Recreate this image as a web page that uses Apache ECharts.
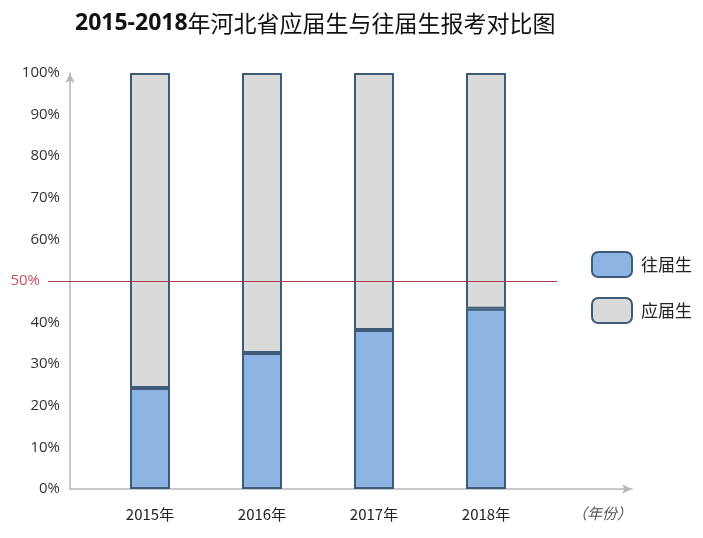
<!DOCTYPE html>
<html><head><meta charset="utf-8">
<script src="https://cdn.jsdelivr.net/npm/echarts@6/dist/echarts.min.js"></script>
<style>html,body{margin:0;padding:0;background:#fff}#c{width:703px;height:538px}</style>
</head><body><div id="c"></div>
<script>
const categories = ['2015年', '2016年', '2017年', '2018年'];
const previousGrads = [24.3, 32.7, 38.2, 43.3];   // 往届生
const currentGrads = [75.7, 67.3, 61.8, 56.7];    // 应届生
const yTicks = [0, 10, 20, 30, 40, 50, 60, 70, 80, 90, 100];
const refValue = 50;

const FONT = '"Noto Sans CJK SC", "Open Sans", sans-serif';
const chart = echarts.init(document.getElementById('c'), null, {renderer: 'canvas'});
const barBorder = '#3F5B7A';
const refColor = '#A8384A';
chart.setOption({
  backgroundColor: '#fff',
  animation: false,
  title: {
    text: '{b|2015-2018}{n|年河北省应届生与往届生报考对比图}',
    left: 70, top: 7,
    textStyle: {
      rich: {
        b: {fontFamily: '"Open Sans", sans-serif', fontWeight: 'bold', fontSize: 23, color: '#111'},
        n: {fontFamily: FONT, fontWeight: 'normal', fontSize: 23, color: '#111'}
      }
    }
  },
  legend: {
    orient: 'vertical', left: 591, top: 251, padding: 0,
    itemWidth: 40, itemHeight: 25, itemGap: 19,
    icon: 'roundRect',
    data: ['往届生', '应届生'],
    textStyle: {fontFamily: '"Noto Sans CJK SC", serif', fontSize: 17, color: '#222', padding: [0, 0, 0, 4]}
  },
  grid: [
    {left: 70, right: 71, top: 73, bottom: 49},
    {left: 94, right: 161, top: 73, bottom: 49},
    {left: 48, right: 146, top: 73, bottom: 49}
  ],
  xAxis: [
    {gridIndex: 0, type: 'value', min: 0, max: 1,
     axisLine: {show: true, symbol: ['none', 'arrow'], symbolSize: [7, 10], lineStyle: {color: '#B8B8B8', width: 1.5}},
     axisTick: {show: false}, axisLabel: {show: false}, splitLine: {show: false},
     name: '（年份）', nameLocation: 'end', nameGap: -60,
     nameTextStyle: {fontFamily: FONT, fontStyle: 'italic', fontSize: 15, color: '#555', verticalAlign: 'top', padding: [17, 0, 0, 0]}},
    {gridIndex: 1, type: 'category', data: categories,
     axisLine: {show: false}, axisTick: {show: false},
     axisLabel: {margin: 18, fontFamily: FONT, fontSize: 15, color: '#222'}},
    {gridIndex: 2, type: 'value', min: 0, max: 1, show: false}
  ],
  yAxis: [
    {gridIndex: 0, type: 'value', min: 0, max: 100, interval: 10,
     axisLine: {show: true, symbol: ['none', 'arrow'], symbolSize: [7, 10], lineStyle: {color: '#B8B8B8', width: 1.5}},
     axisTick: {show: false}, splitLine: {show: false},
     axisLabel: {margin: 10, fontFamily: '"Open Sans", sans-serif', fontSize: 15, color: '#333',
       formatter: v => (v === refValue || yTicks.indexOf(v) < 0) ? '' : v + '%'}},
    {gridIndex: 1, type: 'value', min: 0, max: 100, show: false},
    {gridIndex: 2, type: 'value', min: 0, max: 100, show: false}
  ],
  series: [
    {name: '往届生', type: 'bar', stack: 'total', xAxisIndex: 1, yAxisIndex: 1,
     barWidth: 40, data: previousGrads,
     itemStyle: {color: '#8EB4E3', borderColor: barBorder, borderWidth: 2}},
    {name: '应届生', type: 'bar', stack: 'total', xAxisIndex: 1, yAxisIndex: 1,
     barWidth: 40, data: currentGrads,
     itemStyle: {color: '#DADADA', borderColor: barBorder, borderWidth: 2}},
    {name: 'ref', type: 'line', xAxisIndex: 2, yAxisIndex: 2, data: [],
     color: refColor, itemStyle: {color: refColor}, lineStyle: {color: refColor},
     markLine: {
       silent: true, symbol: ['none', 'none'], z: 10,
       itemStyle: {color: refColor},
       lineStyle: {color: refColor, width: 1, type: 'solid', opacity: 1},
       emphasis: {disabled: true},
       label: {position: 'start', distance: 8, formatter: refValue + '%',
         fontFamily: '"Open Sans", sans-serif', fontSize: 15, color: '#C8505E'},
       data: [{yAxis: refValue, lineStyle: {color: refColor}}]
     }}
  ]
});
</script></body></html>
